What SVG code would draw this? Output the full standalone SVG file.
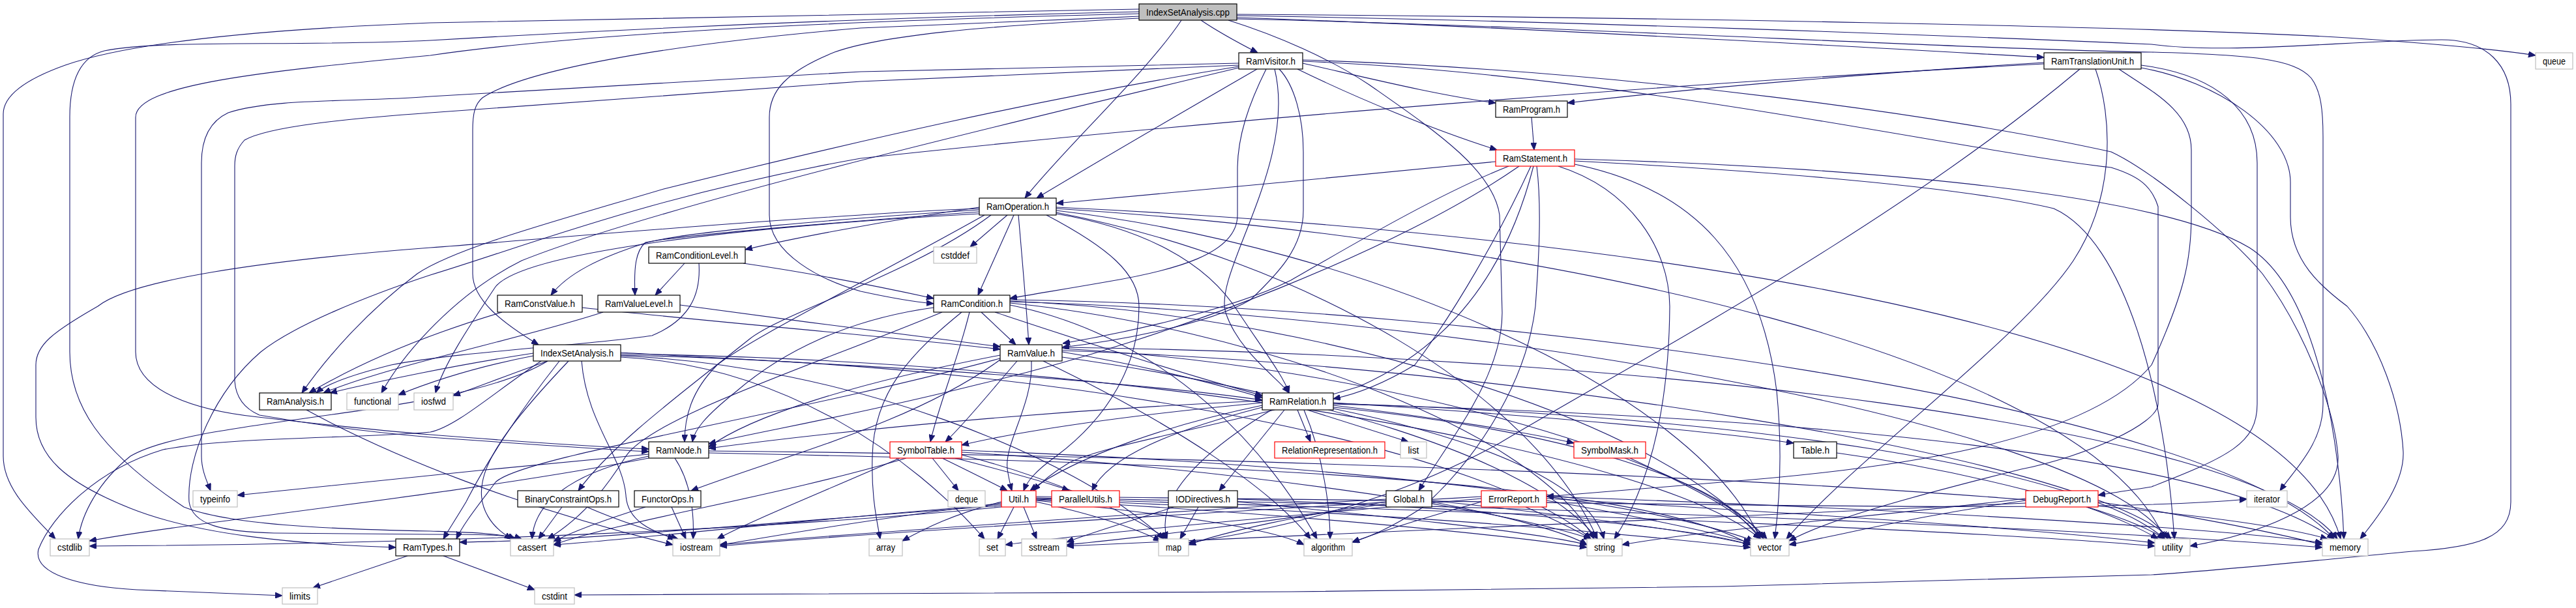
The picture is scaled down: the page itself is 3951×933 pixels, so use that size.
<svg xmlns="http://www.w3.org/2000/svg" width="3951" height="933" viewBox="0 0 3951 933">
<style>
.e{fill:none;stroke:#191970;stroke-width:1.1;marker-end:url(#a)}
.n rect{fill:#ffffff;stroke:#000000;stroke-width:1.2}
.s rect{stroke:#bfbfbf}
.r rect{stroke:#ff0000}
.c rect{fill:#bfbfbf}
text{font-family:"Liberation Sans",Arial,sans-serif;font-size:14px;fill:#000000;text-anchor:middle}
</style>
<defs>
<marker id="a" markerWidth="11" markerHeight="9" refX="11" refY="4.5" orient="auto" markerUnits="userSpaceOnUse"><path d="M0,0 L11,4.5 L0,9 z" fill="#191970" stroke="#191970"/></marker>
</defs>
<rect width="3951" height="933" fill="#ffffff"/>
<g id="edges">
<path class="e" d="M1842,31 C1870,50 1900,66 1929,81"/>
<path class="e" d="M1812,31 C1760,110 1630,230 1572,304"/>
<path class="e" d="M1897,27 C2300,40 2900,75 3135,88"/>
<path class="e" d="M1897,22 C2500,26 3300,40 3600,58 C3750,68 3830,76 3889,85"/>
<path class="e" d="M1897,24 C2400,32 3000,55 3300,68 C3420,84 3600,62 3745,61 C3815,61 3851,100 3851,160 L3851,770 C3851,825 3800,840 3700,846 C3550,860 3400,876 3300,882 L2640,900 L1980,908 L881,913"/>
<path class="e" d="M1897,29 C2400,40 3000,75 3300,80 C3450,84 3520,90 3545,120 C3560,140 3563,170 3563,210 L3563,620 C3563,680 3520,720 3497,753"/>
<path class="e" d="M1884,31 C1960,55 2040,90 2100,130 C2200,200 2290,260 2300,330 L2304,480 C2304,580 2220,680 2176,753"/>
<path class="e" d="M1747,25 C1600,32 1450,38 1320,43 C1000,70 800,110 740,150 C728,160 725,175 725,200 L725,420 C725,460 770,495 826,529"/>
<path class="e" d="M1747,28 C1500,40 1350,55 1280,80 C1205,110 1180,140 1180,180 L1180,330 C1180,390 1260,430 1320,447 C1370,458 1400,463 1432,466"/>
<path class="e" d="M1747,21 C1300,32 900,50 660,85 C400,110 208,130 208,180 L208,540 C208,600 300,630 396,640 C500,652 600,662 660,667 C800,678 900,685 995,689"/>
<path class="e" d="M1747,14 C1300,20 900,28 660,35 C400,45 200,65 100,100 C30,125 5,150 5,175 L5,700 C5,750 50,790 85,827"/>
<path class="e" d="M1747,18 C1300,28 900,48 660,62 C450,72 250,60 160,78 C120,88 107,130 107,180 L107,540 C107,620 150,690 282,778 C350,805 500,812 660,815 C720,817 770,818 790,827"/>
<path class="e" d="M1928,106 C1800,180 1680,250 1590,304"/>
<path class="e" d="M1942,106 C1915,160 1898,210 1898,260 L1898,330 C1898,390 1800,415 1700,432 C1620,446 1580,452 1549,458"/>
<path class="e" d="M1998,97 C2100,120 2200,145 2294,158"/>
<path class="e" d="M1990,106 C2080,150 2200,200 2296,230"/>
<path class="e" d="M1900,97 L1320,110 L660,148 C550,157 420,150 350,173 C318,188 309,220 309,250 L309,700 C309,722 318,740 323,753"/>
<path class="e" d="M1900,100 L1320,125 L660,173 C520,183 410,195 375,215 C363,228 360,240 360,255 L360,585 C362,612 377,628 398,637 C500,655 600,666 660,671 C800,681 900,688 995,693"/>
<path class="e" d="M1900,102 C1600,150 1300,220 1018,290 C850,340 700,380 640,420 C560,480 500,550 463,603"/>
<path class="e" d="M1962,106 C1985,130 1999,180 1999,233 L1999,323 C1999,380 1960,420 1918,460 C1850,500 1700,525 1629,533"/>
<path class="e" d="M1955,106 C1990,250 1860,420 1880,480 C1900,540 1960,580 1977,603"/>
<path class="e" d="M1998,92 C2500,108 3000,180 3238,233 C3300,262 3420,360 3470,420 C3530,500 3580,620 3586,700 C3590,780 3450,822 3359,838"/>
<path class="e" d="M1998,94 C2500,115 3000,230 3238,257 C3280,270 3300,285 3310,317 L3310,620 C3310,650 3200,700 3100,720 C2900,770 2800,800 2744,830"/>
<path class="e" d="M1900,104 C1500,200 1000,320 800,400 C700,450 620,540 585,603"/>
<path class="e" d="M3135,96 C2900,110 2600,135 2404,158"/>
<path class="e" d="M3135,98 C2600,126 1900,180 1320,243 C1000,300 800,380 660,422 C560,455 450,500 400,540 C330,600 286,700 290,770 C295,805 340,816 420,818 L660,820 C730,820 780,820 800,827"/>
<path class="e" d="M3190,106 C2900,350 2500,560 2300,680 C2100,790 1900,820 1823,833"/>
<path class="e" d="M3250,106 C3300,140 3361,170 3361,230 L3361,330 C3361,400 3350,450 3300,560 C3200,680 2900,720 2640,740 C2500,752 2420,758 2372,762"/>
<path class="e" d="M3284,100 C3400,115 3462,170 3462,250 L3462,620 C3462,680 3420,700 3300,747 C3270,752 3240,756 3218,760"/>
<path class="e" d="M3284,104 C3400,125 3513,200 3513,280 L3513,333 C3513,400 3560,440 3600,470 C3650,527 3682,620 3686,693 C3688,740 3650,790 3620,827"/>
<path class="e" d="M3214,106 C3240,180 3245,300 3180,400 C3100,520 2850,700 2740,827"/>
<path class="e" d="M2349,180 L2353,230"/>
<path class="e" d="M2294,248 C2100,268 1800,295 1620,312"/>
<path class="e" d="M2314,255 C2200,300 2050,390 1980,430 C1880,480 1700,515 1630,527"/>
<path class="e" d="M2348,255 C2300,360 2230,480 2170,560 C2120,590 2080,605 2045,612"/>
<path class="e" d="M2330,255 C2150,380 1800,520 1500,590 C1300,640 1150,665 1087,681"/>
<path class="e" d="M2352,255 C2320,380 2250,520 2085,593 C1900,650 1700,680 1640,710 C1610,728 1595,742 1585,753"/>
<path class="e" d="M2357,255 C2365,320 2360,400 2355,470 C2340,600 2250,720 2180,780 C2130,812 2100,824 2074,832"/>
<path class="e" d="M2390,255 C2500,290 2560,380 2561,470 C2560,600 2540,730 2476,827"/>
<path class="e" d="M2415,252 C2600,290 2700,400 2725,600 C2735,700 2728,780 2722,827"/>
<path class="e" d="M2415,247 C2700,262 3000,285 3150,320 C3260,370 3320,600 3335,827"/>
<path class="e" d="M2415,244 C2800,255 3300,290 3450,380 C3560,450 3590,700 3595,827"/>
<path class="e" d="M1545,330 L1488,379"/>
<path class="e" d="M1555,330 L1500,453"/>
<path class="e" d="M1562,330 C1568,400 1575,480 1578,529"/>
<path class="e" d="M1502,318 C1350,340 1220,365 1143,383"/>
<path class="e" d="M1502,322 C1300,335 1050,355 990,373 C920,395 870,420 845,453"/>
<path class="e" d="M1502,325 C1300,340 1050,360 990,372 C975,385 972,410 974,453"/>
<path class="e" d="M1502,328 C1100,350 800,390 760,440 C720,500 680,560 668,603"/>
<path class="e" d="M1502,320 C1400,324 1350,328 1320,330 C1000,350 800,370 660,380 C400,400 200,430 150,470 C80,510 55,530 55,560 L55,640 C55,700 100,740 200,780 C300,820 450,835 607,840"/>
<path class="e" d="M1510,330 C1350,420 1150,520 1100,560 C1060,600 1050,640 1050,678"/>
<path class="e" d="M1520,330 C1400,420 1200,480 1150,520 C1050,600 940,680 887,753"/>
<path class="e" d="M1620,328 C1750,350 1850,400 1900,480 C1940,540 1970,580 1977,603"/>
<path class="e" d="M1620,326 C2000,400 2350,600 2450,827"/>
<path class="e" d="M1620,323 C2100,380 2600,600 2700,827"/>
<path class="e" d="M1620,318 C2500,360 3500,500 3590,827"/>
<path class="e" d="M1620,320 C2400,370 3200,550 3320,827"/>
<path class="e" d="M1605,330 C1700,380 1747,420 1747,470 C1747,560 1700,640 1620,700 C1585,725 1575,740 1570,753"/>
<path class="e" d="M1050,404 L1005,453"/>
<path class="e" d="M1140,404 C1250,420 1350,440 1432,458"/>
<path class="e" d="M1072,404 C1075,450 1060,490 1000,515 C900,530 700,540 600,560 C540,575 500,590 485,603"/>
<path class="e" d="M770,479 C700,500 580,540 474,603"/>
<path class="e" d="M893,472 C1100,495 1350,515 1534,536"/>
<path class="e" d="M925,479 C800,520 600,560 496,603"/>
<path class="e" d="M1043,468 C1200,490 1400,515 1534,532"/>
<path class="e" d="M1505,479 L1558,529"/>
<path class="e" d="M1487,479 C1470,550 1440,620 1427,678"/>
<path class="e" d="M1475,479 C1400,540 1340,600 1338,700 C1336,760 1345,800 1350,827"/>
<path class="e" d="M1526,479 C1650,520 1800,570 1936,607"/>
<path class="e" d="M1432,472 C1300,490 1200,540 1130,600 C1080,640 1065,660 1062,678"/>
<path class="e" d="M1549,468 C1800,520 1950,700 2020,827"/>
<path class="e" d="M1549,465 C1900,500 2350,650 2445,827"/>
<path class="e" d="M1549,462 C2000,480 2550,640 2700,827"/>
<path class="e" d="M1549,460 C2300,470 3400,620 3580,827"/>
<path class="e" d="M1549,463 C2200,480 3200,640 3325,827"/>
<path class="e" d="M1445,479 C1250,560 1000,640 960,700 C935,740 900,790 840,827"/>
<path class="e" d="M1629,540 C1750,560 1850,585 1936,610"/>
<path class="e" d="M1560,554 C1520,600 1480,650 1450,678"/>
<path class="e" d="M1582,554 C1585,620 1540,680 1545,720 C1548,738 1550,746 1552,753"/>
<path class="e" d="M1534,545 C1300,590 1150,640 1087,686"/>
<path class="e" d="M1534,552 C1400,650 1200,700 1060,753"/>
<path class="e" d="M1534,550 C1200,640 800,700 760,740 C730,780 710,805 700,827"/>
<path class="e" d="M1600,554 C1800,650 1950,750 2010,827"/>
<path class="e" d="M1629,548 C2000,600 2350,700 2450,827"/>
<path class="e" d="M1629,535 C2100,560 2600,700 2710,827"/>
<path class="e" d="M1629,533 C2500,545 3450,650 3585,827"/>
<path class="e" d="M1629,538 C2300,560 3200,700 3330,827"/>
<path class="e" d="M818,542 C700,560 580,585 506,603"/>
<path class="e" d="M818,546 C720,565 650,590 611,606"/>
<path class="e" d="M840,554 C780,575 730,595 695,607"/>
<path class="e" d="M840,554 C700,640 300,640 200,700 C150,740 125,790 120,827"/>
<path class="e" d="M830,554 C760,600 700,655 660,663 C550,673 350,670 250,690 C150,720 80,790 59,843 C50,880 120,900 210,905 C300,909 380,912 433,914"/>
<path class="e" d="M858,554 C790,640 740,720 715,770 C700,795 690,810 680,827"/>
<path class="e" d="M872,554 C800,630 748,693 740,740 C732,780 755,810 785,827"/>
<path class="e" d="M892,554 C900,650 955,700 960,760 C962,800 1000,815 1035,827"/>
<path class="e" d="M952,548 C1200,560 1400,700 1510,827"/>
<path class="e" d="M952,546 C1300,560 1650,700 1785,827"/>
<path class="e" d="M952,545 C1700,560 2300,700 2440,827"/>
<path class="e" d="M952,543 C1800,555 2550,700 2700,827"/>
<path class="e" d="M952,541 C1300,560 1700,580 1936,614"/>
<path class="e" d="M470,629 C600,700 800,780 1032,836"/>
<path class="e" d="M995,697 C800,715 500,745 364,760"/>
<path class="e" d="M1035,703 C1060,740 1065,790 1063,827"/>
<path class="e" d="M995,700 C900,720 820,760 816,827"/>
<path class="e" d="M1087,695 C1800,710 2500,730 2685,836"/>
<path class="e" d="M1087,692 C2000,700 3300,750 3570,827"/>
<path class="e" d="M995,703 C700,760 300,800 137,830"/>
<path class="e" d="M1430,703 L1470,753"/>
<path class="e" d="M1445,703 C1490,725 1520,740 1545,753"/>
<path class="e" d="M1465,703 C1550,725 1620,745 1640,753"/>
<path class="e" d="M1390,703 C1200,760 950,800 849,836"/>
<path class="e" d="M1380,703 C1250,760 1150,800 1100,827"/>
<path class="e" d="M1475,698 C1600,730 1720,780 1790,827"/>
<path class="e" d="M1475,694 C1900,720 2300,780 2440,827"/>
<path class="e" d="M1475,691 C2000,710 2500,760 2690,830"/>
<path class="e" d="M1536,770 C1460,790 1420,810 1384,830"/>
<path class="e" d="M1555,778 L1530,827"/>
<path class="e" d="M1570,778 L1590,827"/>
<path class="e" d="M1589,770 C1680,790 1740,810 1780,830"/>
<path class="e" d="M1589,768 C1800,790 1950,810 2000,836"/>
<path class="e" d="M1589,767 C2000,790 2300,820 2434,840"/>
<path class="e" d="M1589,766 C2200,790 2500,820 2685,840"/>
<path class="e" d="M1589,765 C2500,790 3100,820 3305,838"/>
<path class="e" d="M1589,764 C2600,780 3300,820 3562,840"/>
<path class="e" d="M1536,778 C1200,810 700,835 137,838"/>
<path class="e" d="M1536,776 C1200,800 900,830 705,832"/>
<path class="e" d="M1536,774 C1200,800 950,830 849,836"/>
<path class="e" d="M1536,772 C1300,800 1150,830 1104,836"/>
<path class="e" d="M1589,762 C2500,770 3200,790 3446,766"/>
<path class="e" d="M1838,778 L1810,827"/>
<path class="e" d="M1800,778 C1750,795 1680,815 1636,832"/>
<path class="e" d="M1898,770 C2100,790 2350,815 2434,836"/>
<path class="e" d="M1898,766 C2300,780 2600,810 2685,836"/>
<path class="e" d="M1990,629 L2010,678"/>
<path class="e" d="M2005,629 L2160,678"/>
<path class="e" d="M2045,622 C2200,640 2350,665 2414,680"/>
<path class="e" d="M2045,618 C2400,640 2650,665 2751,680"/>
<path class="e" d="M1970,629 L1870,753"/>
<path class="e" d="M1936,622 C1800,650 1650,700 1580,753"/>
<path class="e" d="M1936,625 C1800,660 1700,700 1675,753"/>
<path class="e" d="M1936,618 C1700,640 1550,665 1475,683"/>
<path class="e" d="M1936,615 C1600,630 1300,660 1087,688"/>
<path class="e" d="M1950,629 C1850,690 1770,760 1790,827"/>
<path class="e" d="M2045,627 C2300,680 2440,750 2460,827"/>
<path class="e" d="M2045,625 C2400,660 2650,740 2705,827"/>
<path class="e" d="M2045,620 C2800,640 3400,700 3580,827"/>
<path class="e" d="M2045,619 C2700,640 3200,720 3320,827"/>
<path class="e" d="M2000,629 C2030,700 2040,780 2040,827"/>
<path class="e" d="M2817,695 C3000,720 3250,780 3320,827"/>
<path class="e" d="M2500,703 C2600,750 2680,790 2700,827"/>
<path class="e" d="M2126,770 C2000,790 1880,815 1823,836"/>
<path class="e" d="M2196,770 C2300,790 2400,815 2434,836"/>
<path class="e" d="M2196,768 C2400,790 2600,815 2685,836"/>
<path class="e" d="M2126,766 C1700,790 1300,820 1104,836"/>
<path class="e" d="M2126,773 C1950,800 1750,825 1636,836"/>
<path class="e" d="M2340,778 C2390,800 2420,815 2440,827"/>
<path class="e" d="M2272,770 C2200,790 2120,815 2074,832"/>
<path class="e" d="M2372,768 C2500,790 2620,815 2685,833"/>
<path class="e" d="M2272,765 C2000,790 1700,815 1542,836"/>
<path class="e" d="M2272,762 C1800,790 1300,820 1104,838"/>
<path class="e" d="M2372,762 C2900,780 3400,810 3562,833"/>
<path class="e" d="M2372,765 C2800,790 3100,810 3305,833"/>
<path class="e" d="M3107,765 C2900,790 2600,815 2488,836"/>
<path class="e" d="M3107,768 C2950,790 2850,815 2744,836"/>
<path class="e" d="M3200,778 C3250,795 3290,815 3310,827"/>
<path class="e" d="M3218,770 C3350,790 3480,815 3562,836"/>
<path class="e" d="M3107,772 C2500,800 1900,825 1636,838"/>
<path class="e" d="M625,853 L480,902"/>
<path class="e" d="M680,853 L820,905"/>
<path class="e" d="M862,778 L826,827"/>
<path class="e" d="M900,778 C950,800 1000,815 1040,827"/>
<path class="e" d="M990,778 C920,800 880,815 849,831"/>
<path class="e" d="M1030,778 L1052,827"/>
</g>
<g id="node-IndexSetAnalysis_cpp" class="n c"><rect x="1747" y="6" width="150" height="25"/><text x="1822" y="23.5" textLength="128" lengthAdjust="spacingAndGlyphs">IndexSetAnalysis.cpp</text></g>
<g id="node-RamVisitor_h" class="n"><rect x="1900" y="81" width="98" height="25"/><text x="1949" y="98.5" textLength="76" lengthAdjust="spacingAndGlyphs">RamVisitor.h</text></g>
<g id="node-RamTranslationUnit_h" class="n"><rect x="3135" y="81" width="149" height="25"/><text x="3209.5" y="98.5" textLength="127" lengthAdjust="spacingAndGlyphs">RamTranslationUnit.h</text></g>
<g id="node-queue" class="n s"><rect x="3889" y="81" width="57" height="25"/><text x="3917.5" y="98.5" textLength="35" lengthAdjust="spacingAndGlyphs">queue</text></g>
<g id="node-RamProgram_h" class="n"><rect x="2294" y="155" width="110" height="25"/><text x="2349" y="172.5" textLength="88" lengthAdjust="spacingAndGlyphs">RamProgram.h</text></g>
<g id="node-RamStatement_h" class="n r"><rect x="2294" y="230" width="121" height="25"/><text x="2354.5" y="247.5" textLength="99" lengthAdjust="spacingAndGlyphs">RamStatement.h</text></g>
<g id="node-RamOperation_h" class="n"><rect x="1502" y="304" width="118" height="26"/><text x="1561" y="322" textLength="96" lengthAdjust="spacingAndGlyphs">RamOperation.h</text></g>
<g id="node-cstddef" class="n s"><rect x="1432" y="379" width="66" height="25"/><text x="1465" y="396.5" textLength="44" lengthAdjust="spacingAndGlyphs">cstddef</text></g>
<g id="node-RamConditionLevel_h" class="n"><rect x="995" y="379" width="148" height="25"/><text x="1069" y="396.5" textLength="126" lengthAdjust="spacingAndGlyphs">RamConditionLevel.h</text></g>
<g id="node-RamConstValue_h" class="n"><rect x="763" y="453" width="130" height="26"/><text x="828" y="471" textLength="108" lengthAdjust="spacingAndGlyphs">RamConstValue.h</text></g>
<g id="node-RamValueLevel_h" class="n"><rect x="917" y="453" width="126" height="26"/><text x="980" y="471" textLength="104" lengthAdjust="spacingAndGlyphs">RamValueLevel.h</text></g>
<g id="node-RamCondition_h" class="n"><rect x="1432" y="453" width="117" height="26"/><text x="1490.5" y="471" textLength="95" lengthAdjust="spacingAndGlyphs">RamCondition.h</text></g>
<g id="node-IndexSetAnalysis_h" class="n"><rect x="818" y="529" width="134" height="25"/><text x="885" y="546.5" textLength="112" lengthAdjust="spacingAndGlyphs">IndexSetAnalysis.h</text></g>
<g id="node-RamValue_h" class="n"><rect x="1534" y="529" width="95" height="25"/><text x="1581.5" y="546.5" textLength="73" lengthAdjust="spacingAndGlyphs">RamValue.h</text></g>
<g id="node-RamAnalysis_h" class="n"><rect x="398" y="603" width="110" height="26"/><text x="453" y="621" textLength="88" lengthAdjust="spacingAndGlyphs">RamAnalysis.h</text></g>
<g id="node-functional" class="n s"><rect x="532" y="603" width="79" height="26"/><text x="571.5" y="621" textLength="57" lengthAdjust="spacingAndGlyphs">functional</text></g>
<g id="node-iosfwd" class="n s"><rect x="635" y="603" width="60" height="26"/><text x="665" y="621" textLength="38" lengthAdjust="spacingAndGlyphs">iosfwd</text></g>
<g id="node-RamRelation_h" class="n"><rect x="1936" y="603" width="109" height="26"/><text x="1990.5" y="621" textLength="87" lengthAdjust="spacingAndGlyphs">RamRelation.h</text></g>
<g id="node-RamNode_h" class="n"><rect x="995" y="678" width="92" height="25"/><text x="1041" y="695.5" textLength="70" lengthAdjust="spacingAndGlyphs">RamNode.h</text></g>
<g id="node-SymbolTable_h" class="n r"><rect x="1365" y="678" width="110" height="25"/><text x="1420" y="695.5" textLength="88" lengthAdjust="spacingAndGlyphs">SymbolTable.h</text></g>
<g id="node-RelationRepresentation_h" class="n r"><rect x="1955" y="678" width="169" height="25"/><text x="2039.5" y="695.5" textLength="147" lengthAdjust="spacingAndGlyphs">RelationRepresentation.h</text></g>
<g id="node-list" class="n s"><rect x="2148" y="678" width="40" height="25"/><text x="2168" y="695.5" textLength="17" lengthAdjust="spacingAndGlyphs">list</text></g>
<g id="node-SymbolMask_h" class="n r"><rect x="2414" y="678" width="110" height="25"/><text x="2469" y="695.5" textLength="88" lengthAdjust="spacingAndGlyphs">SymbolMask.h</text></g>
<g id="node-Table_h" class="n"><rect x="2751" y="678" width="66" height="25"/><text x="2784" y="695.5" textLength="44" lengthAdjust="spacingAndGlyphs">Table.h</text></g>
<g id="node-typeinfo" class="n s"><rect x="296" y="753" width="68" height="25"/><text x="330" y="770.5" textLength="46" lengthAdjust="spacingAndGlyphs">typeinfo</text></g>
<g id="node-BinaryConstraintOps_h" class="n"><rect x="794" y="753" width="155" height="25"/><text x="871.5" y="770.5" textLength="133" lengthAdjust="spacingAndGlyphs">BinaryConstraintOps.h</text></g>
<g id="node-FunctorOps_h" class="n"><rect x="973" y="753" width="102" height="25"/><text x="1024" y="770.5" textLength="80" lengthAdjust="spacingAndGlyphs">FunctorOps.h</text></g>
<g id="node-deque" class="n s"><rect x="1454" y="753" width="57" height="25"/><text x="1482.5" y="770.5" textLength="35" lengthAdjust="spacingAndGlyphs">deque</text></g>
<g id="node-Util_h" class="n r"><rect x="1536" y="753" width="53" height="25"/><text x="1562.5" y="770.5" textLength="31" lengthAdjust="spacingAndGlyphs">Util.h</text></g>
<g id="node-ParallelUtils_h" class="n r"><rect x="1613" y="753" width="104" height="25"/><text x="1665" y="770.5" textLength="82" lengthAdjust="spacingAndGlyphs">ParallelUtils.h</text></g>
<g id="node-IODirectives_h" class="n"><rect x="1792" y="753" width="106" height="25"/><text x="1845" y="770.5" textLength="84" lengthAdjust="spacingAndGlyphs">IODirectives.h</text></g>
<g id="node-Global_h" class="n"><rect x="2126" y="753" width="70" height="25"/><text x="2161" y="770.5" textLength="48" lengthAdjust="spacingAndGlyphs">Global.h</text></g>
<g id="node-ErrorReport_h" class="n r"><rect x="2272" y="753" width="100" height="25"/><text x="2322" y="770.5" textLength="78" lengthAdjust="spacingAndGlyphs">ErrorReport.h</text></g>
<g id="node-DebugReport_h" class="n r"><rect x="3107" y="753" width="111" height="25"/><text x="3162.5" y="770.5" textLength="89" lengthAdjust="spacingAndGlyphs">DebugReport.h</text></g>
<g id="node-iterator" class="n s"><rect x="3446" y="753" width="62" height="25"/><text x="3477" y="770.5" textLength="40" lengthAdjust="spacingAndGlyphs">iterator</text></g>
<g id="node-cstdlib" class="n s"><rect x="77" y="827" width="60" height="26"/><text x="107" y="845" textLength="38" lengthAdjust="spacingAndGlyphs">cstdlib</text></g>
<g id="node-RamTypes_h" class="n"><rect x="607" y="827" width="98" height="26"/><text x="656" y="845" textLength="76" lengthAdjust="spacingAndGlyphs">RamTypes.h</text></g>
<g id="node-cassert" class="n s"><rect x="783" y="827" width="66" height="26"/><text x="816" y="845" textLength="44" lengthAdjust="spacingAndGlyphs">cassert</text></g>
<g id="node-iostream" class="n s"><rect x="1032" y="827" width="72" height="26"/><text x="1068" y="845" textLength="50" lengthAdjust="spacingAndGlyphs">iostream</text></g>
<g id="node-array" class="n s"><rect x="1333" y="827" width="51" height="26"/><text x="1358.5" y="845" textLength="29" lengthAdjust="spacingAndGlyphs">array</text></g>
<g id="node-set" class="n s"><rect x="1502" y="827" width="40" height="26"/><text x="1522" y="845" textLength="18" lengthAdjust="spacingAndGlyphs">set</text></g>
<g id="node-sstream" class="n s"><rect x="1567" y="827" width="69" height="26"/><text x="1601.5" y="845" textLength="47" lengthAdjust="spacingAndGlyphs">sstream</text></g>
<g id="node-map" class="n s"><rect x="1777" y="827" width="46" height="26"/><text x="1800" y="845" textLength="24" lengthAdjust="spacingAndGlyphs">map</text></g>
<g id="node-algorithm" class="n s"><rect x="2000" y="827" width="74" height="26"/><text x="2037" y="845" textLength="52" lengthAdjust="spacingAndGlyphs">algorithm</text></g>
<g id="node-string" class="n s"><rect x="2434" y="827" width="54" height="26"/><text x="2461" y="845" textLength="32" lengthAdjust="spacingAndGlyphs">string</text></g>
<g id="node-vector" class="n s"><rect x="2685" y="827" width="59" height="26"/><text x="2714.5" y="845" textLength="37" lengthAdjust="spacingAndGlyphs">vector</text></g>
<g id="node-utility" class="n s"><rect x="3305" y="827" width="54" height="26"/><text x="3332" y="845" textLength="32" lengthAdjust="spacingAndGlyphs">utility</text></g>
<g id="node-memory" class="n s"><rect x="3562" y="827" width="70" height="26"/><text x="3597" y="845" textLength="48" lengthAdjust="spacingAndGlyphs">memory</text></g>
<g id="node-limits" class="n s"><rect x="433" y="902" width="54" height="25"/><text x="460" y="919.5" textLength="32" lengthAdjust="spacingAndGlyphs">limits</text></g>
<g id="node-cstdint" class="n s"><rect x="820" y="902" width="61" height="25"/><text x="850.5" y="919.5" textLength="39" lengthAdjust="spacingAndGlyphs">cstdint</text></g>
</svg>
